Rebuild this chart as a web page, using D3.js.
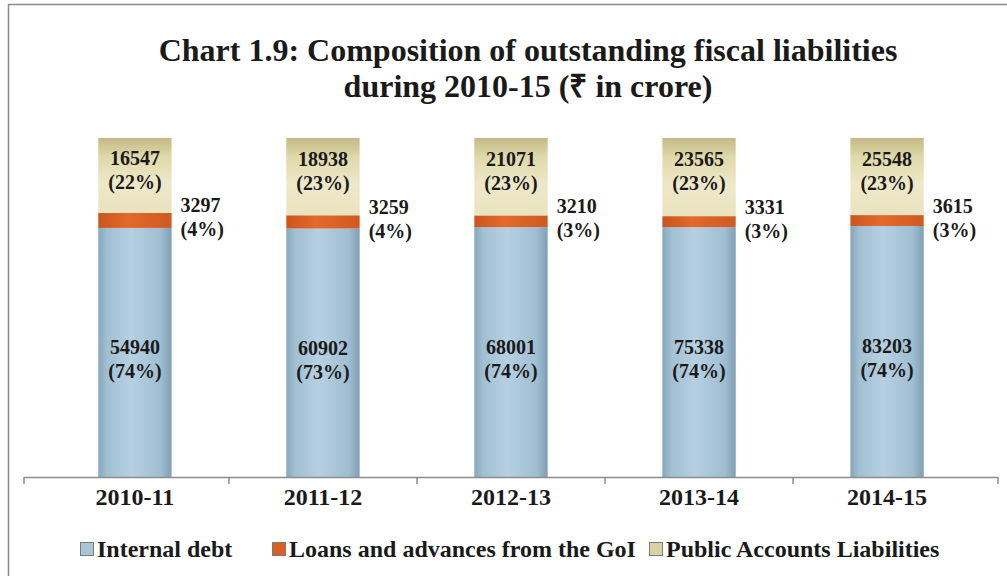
<!DOCTYPE html>
<html>
<head>
<meta charset="utf-8">
<script src="https://cdn.jsdelivr.net/npm/d3@7"></script>
<style>
  html, body { margin: 0; padding: 0; background: #fff; }
  svg { display: block; }
  text { font-family: "Liberation Serif", "Times New Roman", serif; font-weight: bold; fill: #1a1a1a; }
</style>
</head>
<body>
<svg id="chart" width="1007" height="576"></svg>
<script>
// Outstanding fiscal liabilities, ₹ in crore
const years = ["2010-11", "2011-12", "2012-13", "2013-14", "2014-15"];
const internalDebt = [54940, 60902, 68001, 75338, 83203];
const loansGoI = [3297, 3259, 3210, 3331, 3615];
const publicAccounts = [16547, 18938, 21071, 23565, 25548];
const internalPct = ["74%", "73%", "74%", "74%", "74%"];
const loansPct = ["4%", "4%", "3%", "3%", "3%"];
const publicPct = ["22%", "23%", "23%", "23%", "23%"];
const seriesNames = ["Internal debt", "Loans and advances from the GoI", "Public Accounts Liabilities"];

const svg = d3.select("#chart");
const W = 1007, H = 576;

// frame
svg.append("rect").attr("x", 8.5).attr("y", 4.5).attr("width", W + 20).attr("height", H + 20)
  .attr("fill", "none").attr("stroke", "#8a8a8a").attr("stroke-width", 1.5);

// gradients giving the columns their rounded look
const defs = svg.append("defs");
function hGrad(id, stops) {
  const g = defs.append("linearGradient").attr("id", id).attr("x1", "0").attr("x2", "1").attr("y1", "0").attr("y2", "0");
  stops.forEach(s => g.append("stop").attr("offset", s[0]).attr("stop-color", s[1]));
}
hGrad("gBlue", [[0, "#86a6ba"], [0.12, "#a2c0d3"], [0.45, "#b5d0e1"], [0.85, "#a0bed2"], [1, "#7f9fb4"]]);
hGrad("gOrange", [[0, "#c85520"], [0.4, "#e4692b"], [1, "#cf5a22"]]);
const gb = defs.append("linearGradient").attr("id", "gBeige").attr("x1", "0").attr("x2", "0").attr("y1", "0").attr("y2", "1");
[[0, "#c4b985"], [0.25, "#e0d9ab"], [0.6, "#ede8c8"], [1, "#eae3bf"]].forEach(s => gb.append("stop").attr("offset", s[0]).attr("stop-color", s[1]));
const colors = ["url(#gBlue)", "url(#gOrange)", "url(#gBeige)"];
const swatch = ["#a9c6d8", "#d9601e", "#d9d3a3"];

// title
const title = svg.append("text").attr("text-anchor", "middle").style("font-size", "32px");
title.append("tspan").attr("x", 528).attr("y", 61).text("Chart 1.9: Composition of outstanding fiscal liabilities");
title.append("tspan").attr("x", 528).attr("y", 97).text("during 2010-15 (₹ in crore)");

// data table and 100% stack
const rows = years.map((y, i) => ({ year: y, internal: internalDebt[i], loans: loansGoI[i], publicAcc: publicAccounts[i] }));
const keys = ["internal", "loans", "publicAcc"];
const stack = d3.stack().keys(keys).offset(d3.stackOffsetExpand)(rows);

const x = d3.scaleBand().domain(years).range([24, 998]).paddingInner(0.61).paddingOuter(0.395);
const y = d3.scaleLinear().domain([0, 1]).range([477, 138]);

const layer = svg.append("g").selectAll("g").data(stack).join("g").attr("fill", (d, i) => colors[i]);
layer.selectAll("rect").data(d => d).join("rect")
  .attr("x", d => x(d.data.year))
  .attr("width", x.bandwidth())
  .attr("y", d => y(d[1]))
  .attr("height", d => y(d[0]) - y(d[1]));

// category axis
const axisY = 477;
svg.append("line").attr("x1", 24).attr("x2", 998).attr("y1", axisY + 0.5).attr("y2", axisY + 0.5)
  .attr("stroke", "#8c8c8c").attr("stroke-width", 1.5);
const tickXs = [24].concat(years.slice(1).map(yr => x(yr) - x.step() * x.paddingInner() / 2)).concat([998]);
svg.append("g").selectAll("line").data(tickXs).join("line")
  .attr("x1", d => d).attr("x2", d => d).attr("y1", axisY).attr("y2", axisY + 7)
  .attr("stroke", "#8c8c8c").attr("stroke-width", 1.5);
svg.append("g").selectAll("text").data(years).join("text")
  .attr("x", d => x(d) + x.bandwidth() / 2).attr("y", 505)
  .attr("text-anchor", "middle").style("font-size", "24px").text(d => d);

// value labels
const labels = svg.append("g").style("font-size", "20px");
function twoLine(cx, cy, v, p, anchor) {
  const t = labels.append("text").attr("text-anchor", anchor);
  t.append("tspan").attr("x", cx).attr("y", cy - 5).text(v);
  t.append("tspan").attr("x", cx).attr("y", cy + 19).text("(" + p + ")");
}
years.forEach((yr, i) => {
  const cx = x(yr) + x.bandwidth() / 2;
  const s0 = stack[0][i], s1 = stack[1][i], s2 = stack[2][i];
  twoLine(cx, (y(s0[0]) + y(s0[1])) / 2 + 7, internalDebt[i], internalPct[i], "middle");
  twoLine(x(yr) + x.bandwidth() + 9, (y(s1[0]) + y(s1[1])) / 2 - 3, loansGoI[i], loansPct[i], "start");
  twoLine(cx, (y(s2[0]) + y(s2[1])) / 2 - 6, publicAccounts[i], publicPct[i], "middle");
});

// legend
const legendItems = [{ x: 80 }, { x: 272 }, { x: 649 }];
const legend = svg.append("g").style("font-size", "24px");
seriesNames.forEach((name, i) => {
  legend.append("rect").attr("x", legendItems[i].x + 0.5).attr("y", 542.5).attr("width", 13).attr("height", 13)
    .attr("fill", swatch[i]).attr("stroke", "#7a7a7a").attr("stroke-width", 1);
  legend.append("text").attr("x", legendItems[i].x + 17).attr("y", 557).text(name);
});
</script>
</body>
</html>
